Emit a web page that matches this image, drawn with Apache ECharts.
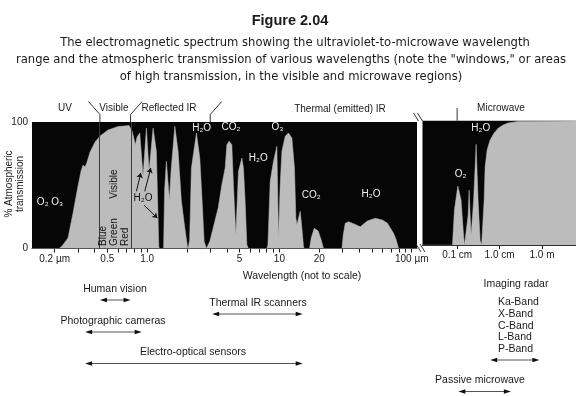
<!DOCTYPE html>
<html><head><meta charset="utf-8">
<script src="https://cdn.jsdelivr.net/npm/echarts@6/dist/echarts.min.js"></script>
<style>html,body{margin:0;padding:0;background:#fff}#c{width:576px;height:396px}</style>
</head><body><div id="c"></div><script>
// ---- Optical / infrared window: wavelength (µm) and % atmospheric transmission
const irWavelength = [0.135,0.216,0.2275,0.2525,0.2755,0.3005,0.3167,0.328,0.3396,0.3516,0.3705,0.4043,0.4408,0.5068,0.6033,0.7306,
  0.750,0.770,0.815,0.840,0.880,0.932,0.988,1.035,1.110,1.175,1.226,1.236,1.332,1.356,1.399,1.474,1.519,1.620,1.715,1.817,1.928,2.017,2.042,
  2.096,2.162,2.360,2.503,2.606,2.698,2.808,2.980,3.251,3.443,3.672,3.890,4.006,4.170,4.370,4.493,4.686,4.903,5.202,5.349,5.509,5.675,5.835,
  8.044,8.184,8.518,9.020,9.571,9.840,10.14,10.44,11.06,11.71,12.43,13.00,13.32,13.56,14.36,14.79,15.21,15.39,
  16.89,17.39,18.32,19.65,20.70,21.54,29.69,30.37,31.45,33.31,36.78,40.83,46.12,53.04,59.91,65.36,72.93,76.44,79.55,109.6];
const irTransmission = [0,0,2.0,8.3,28.1,49.4,61.3,66.0,64.4,68.4,76.3,84.2,88.9,93.7,96.4,97.2,
  96.0,92.9,82.1,88.1,91.3,57.3,95.3,61.3,95.3,76.8,2.0,0,0,46.2,68.9,38.6,62.1,96.6,76.8,37.5,16.2,1.6,0,
  6.7,63.6,91.3,71.5,37.5,5.7,0,5.7,21.5,32.0,50.4,63.6,82.1,84.7,82.1,50.4,10.9,61.0,71.5,63.6,37.3,3.0,0,
  0,3.0,53.1,68.9,80.8,8.3,50.4,76.8,88.7,91.3,87.4,63.6,24.1,18.8,29.4,16.2,1.7,0,
  0,8.3,16.0,13.8,6.7,0,0,10.7,19.9,21.2,19.4,17.2,21.7,23.9,22.5,20.2,12.0,6.7,0,0];
// ---- Microwave window: wavelength (cm) and % transmission
const mwWavelengthCm = [0.0153,0.0775,0.0863,0.1038,0.124,0.1406,0.1486,0.163,0.1815,0.1915,0.2023,0.2134,0.2254,0.2445,0.280,0.312,
  0.3477,0.3768,0.4159,0.4317,0.456,0.508,0.597,0.743,0.937,1.46,2.51,7.4,4000];
const mwTransmission = [0,0,28.2,47.5,36.2,9.4,0,0,24.1,44.2,24.1,8.0,6.4,36.2,81.0,36.2,4.0,0,0,36.2,63.0,76.4,84.5,90.1,94.1,96.5,98.2,99.4,99.8];
// ---- axis ticks / labels
const irTickValues = [0.2,0.3,0.4,0.5,0.6,0.7,0.8,0.9,1,2,3,4,5,6,7,8,9,10,20,30,40,50,60,70,80,90,100];
const irLabelValues = [0.2,0.5,1,5,10,20,100];
const irLabelText = ['0.2 \u00b5m','0.5','1.0','5','10','20','100 \u00b5m'];
const mwLabelValuesCm = [0.1,1,100];
const mwLabelText = ['0.1 cm','1.0 cm','1.0 m'];
// ---- region boundaries (µm) and microwave boundary (cm)
const visibleBounds = [0.44, 0.75];
const regionBounds = [0.44, 0.75, 3.0];
const microwaveBoundCm = 0.1;
// ---- sensor wavelength ranges
const irSensors = ['Human vision','Thermal IR scanners','Photographic cameras','Electro-optical sensors'];
const irSensorFrom = [0.44, 3.1, 0.34, 0.34];
const irSensorTo = [0.75, 15, 0.91, 15];
const mwSensors = ['Imaging radar','Passive microwave'];
const mwSensorFromCm = [0.6, 0.107];
const mwSensorToCm = [75, 3.4];
const radarBands = ['Ka-Band','X-Band','C-Band','L-Band','P-Band'];

const lg = Math.log10;
const mw = cm => cm <= 1 ? lg(cm) : lg(cm) / 2;   // "not to scale" compressed axis beyond 1 cm
const irData = irWavelength.map((w, i) => [lg(w), irTransmission[i]]);
const mwData = mwWavelengthCm.map((c, i) => [mw(c), mwTransmission[i]]);
const GRAY = '#bcbcbc', BLACK = '#060606', INK = '#1a1a1a';
const FF = 'Liberation Sans, Arial, Helvetica, sans-serif';
function pick(v, vals, texts) { for (let i = 0; i < vals.length; i++) if (Math.abs(vals[i] - v) < 1e-6) return texts[i]; return ''; }

const chart = echarts.init(document.getElementById('c'));
const arrowPair = (a, b) => [
  {coord: [lg(a[0]), a[1]], symbol: 'none', lineStyle: {color: '#111', width: 1}},
  {coord: [lg(b[0]), b[1]], symbol: 'arrow', symbolSize: 5, lineStyle: {color: '#111', width: 1}}];

const option = {
  animation: false,
  grid: [
    {left: 32, top: 122, width: 385, height: 126.5, show: true, backgroundColor: BLACK, borderWidth: 0},
    {left: 422.5, top: 120.7, width: 153.5, height: 124.5, show: true, backgroundColor: BLACK, borderWidth: 0}
  ],
  xAxis: [
    {type: 'value', gridIndex: 0, min: -0.87, max: 2.04,
      axisLine: {show: true, onZero: false, lineStyle: {color: INK, width: 1}},
      axisTick: {show: true, length: 4, customValues: irTickValues.map(lg), lineStyle: {color: INK}},
      axisLabel: {customValues: irLabelValues.map(lg), formatter: v => pick(v, irLabelValues.map(lg), irLabelText),
        fontSize: 10, color: INK, margin: 6, fontFamily: FF},
      splitLine: {show: false}},
    {type: 'value', gridIndex: 1, min: -1.816, max: 1.8,
      axisLine: {show: true, onZero: false, lineStyle: {color: INK, width: 1}},
      axisTick: {show: true, length: 4, customValues: mwLabelValuesCm.map(mw), lineStyle: {color: INK}},
      axisLabel: {customValues: mwLabelValuesCm.map(mw), formatter: v => pick(v, mwLabelValuesCm.map(mw), mwLabelText),
        fontSize: 10, color: INK, margin: 5, fontFamily: FF},
      splitLine: {show: false}}
  ],
  yAxis: [
    {type: 'value', gridIndex: 0, min: 0, max: 100, interval: 100,
      axisLine: {show: false}, axisTick: {show: false}, splitLine: {show: false},
      axisLabel: {fontSize: 10, color: INK, margin: 4, fontFamily: FF}},
    {type: 'value', gridIndex: 1, min: 0, max: 100, interval: 100,
      axisLine: {show: false}, axisTick: {show: false}, splitLine: {show: false}, axisLabel: {show: false}}
  ],
  series: [
    {type: 'line', xAxisIndex: 0, yAxisIndex: 0, data: irData, symbol: 'none', silent: true,
      lineStyle: {width: 0.5, color: GRAY}, areaStyle: {color: GRAY, opacity: 1},
      markLine: {silent: true, symbol: ['none', 'none'], label: {show: false}, emphasis: {disabled: true},
        lineStyle: {color: '#3a3a3a', width: 1, type: 'solid'},
        data: [
          {xAxis: lg(visibleBounds[0])}, {xAxis: lg(visibleBounds[1])},
          arrowPair([0.830, 45.2], [0.896, 59.7]),
          arrowPair([0.960, 45.2], [1.066, 63.6]),
          arrowPair([0.949, 34.2], [1.196, 24.1])
        ]}},
    {type: 'line', xAxisIndex: 1, yAxisIndex: 1, data: mwData, symbol: 'none', silent: true,
      lineStyle: {width: 0.5, color: GRAY}, areaStyle: {color: GRAY, opacity: 1}}
  ]
};
chart.setOption(option);

// ---- annotations
const g = [];
function txt(x, y, text, o) {
  o = o || {};
  g.push({type: 'text', x: x, y: y, z: 100, rotation: o.rot || 0, silent: true,
    style: {text: text, fill: o.fill || INK, font: (o.weight || 'normal') + ' ' + (o.size || 10) + 'px ' + (o.ff || FF),
      align: o.align || 'center', verticalAlign: o.va || 'middle', textAlign: o.align || 'center', textVerticalAlign: o.va || 'middle',
      lineHeight: o.lh || undefined}});
}
function seg(x1, y1, x2, y2, c, w) {
  g.push({type: 'line', z: 100, silent: true, shape: {x1: x1, y1: y1, x2: x2, y2: y2}, style: {stroke: c || INK, lineWidth: w || 1}});
}
function dblArrow(x1, x2, y) {
  seg(x1 + 3, y, x2 - 3, y, '#555', 1);
  g.push({type: 'polygon', z: 100, silent: true, shape: {points: [[x1, y], [x1 + 7, y - 2.2], [x1 + 7, y + 2.2]]}, style: {fill: '#111'}});
  g.push({type: 'polygon', z: 100, silent: true, shape: {points: [[x2, y], [x2 - 7, y - 2.2], [x2 - 7, y + 2.2]]}, style: {fill: '#111'}});
}
const pxIR = w => chart.convertToPixel({xAxisIndex: 0}, lg(w));
const pxMW = c => chart.convertToPixel({xAxisIndex: 1}, mw(c));

// title and caption
const CAP = '"DejaVu Sans", Lato, sans-serif';
txt(290, 21, 'Figure 2.04', {size: 14.5, weight: 'bold'});
txt(295, 43, 'The electromagnetic spectrum showing the ultraviolet-to-microwave wavelength', {size: 11.6, ff: CAP});
txt(291, 60, 'range and the atmospheric transmission of various wavelengths (note the "windows," or areas', {size: 11.6, ff: CAP});
txt(291, 77, 'of high transmission, in the visible and microwave regions)', {size: 11.6, ff: CAP});

// region labels and separators
txt(65, 108, 'UV'); txt(114, 108, 'Visible'); txt(169, 108, 'Reflected IR');
txt(340, 109, 'Thermal (emitted) IR'); txt(501, 108, 'Microwave');
const dirs = [-1, 1, 1];
regionBounds.forEach((w, i) => {
  const x = pxIR(w);
  seg(x, 122, x, 114.5, '#333', 1);
  seg(x, 114.5, x + dirs[i] * 11.5, 101.5, '#333', 1);
});
const xm = pxMW(microwaveBoundCm);
seg(xm, 120.7, xm, 108, '#333', 1);

// break marks between panels
seg(413.5, 113, 418.5, 121, '#333', 1); seg(417.5, 113, 422.5, 121, '#333', 1);
seg(416, 244, 421, 252, '#333', 1); seg(420, 244, 425, 252, '#333', 1);

// y axis name
txt(15, 184, '% Atmospheric\ntransmission', {rot: Math.PI / 2, lh: 11});

// in-plot labels
const W = '#f4f4f4';
txt(50, 202, 'O\u2082 O\u2083', {fill: W});
txt(201.7, 128, 'H\u2082O', {fill: W});
txt(231, 127.5, 'CO\u2082', {fill: W});
txt(258.3, 158.3, 'H\u2082O', {fill: W});
txt(277.5, 127.5, 'O\u2083', {fill: W});
txt(311.3, 195, 'CO\u2082', {fill: W});
txt(371, 194, 'H\u2082O', {fill: W});
txt(460.5, 174, 'O\u2082', {fill: W});
txt(480.8, 128.3, 'H\u2082O', {fill: W});
txt(143, 198, 'H\u2082O', {fill: '#111'});
txt(114.7, 184, 'Visible', {rot: Math.PI / 2, fill: '#111'});
txt(103, 246, 'Blue', {rot: Math.PI / 2, fill: '#111', align: 'left'});
txt(114.5, 246, 'Green', {rot: Math.PI / 2, fill: '#111', align: 'left'});
txt(125.5, 246, 'Red', {rot: Math.PI / 2, fill: '#111', align: 'left'});

// x axis name
txt(302, 276, 'Wavelength (not to scale)', {size: 10.5});

// sensors
const irLabelPos = [[115, 289], [258, 303], [113, 321], [193, 352]];
const irArrowY = [300, 314, 332, 363.5];
irSensors.forEach((s, i) => {
  txt(irLabelPos[i][0], irLabelPos[i][1], s, {size: 10.5});
  dblArrow(pxIR(irSensorFrom[i]), pxIR(irSensorTo[i]), irArrowY[i]);
});
txt(516, 284, mwSensors[0], {size: 10.5});
radarBands.forEach((b, i) => txt(498, 302.3 + i * 11.7, b, {size: 10.5, align: 'left'}));
dblArrow(pxMW(mwSensorFromCm[0]), pxMW(mwSensorToCm[0]), 360);
txt(480, 380, mwSensors[1], {size: 10.5});
dblArrow(pxMW(mwSensorFromCm[1]), pxMW(mwSensorToCm[1]), 391.5);

chart.setOption({graphic: {elements: g}});
</script></body></html>
